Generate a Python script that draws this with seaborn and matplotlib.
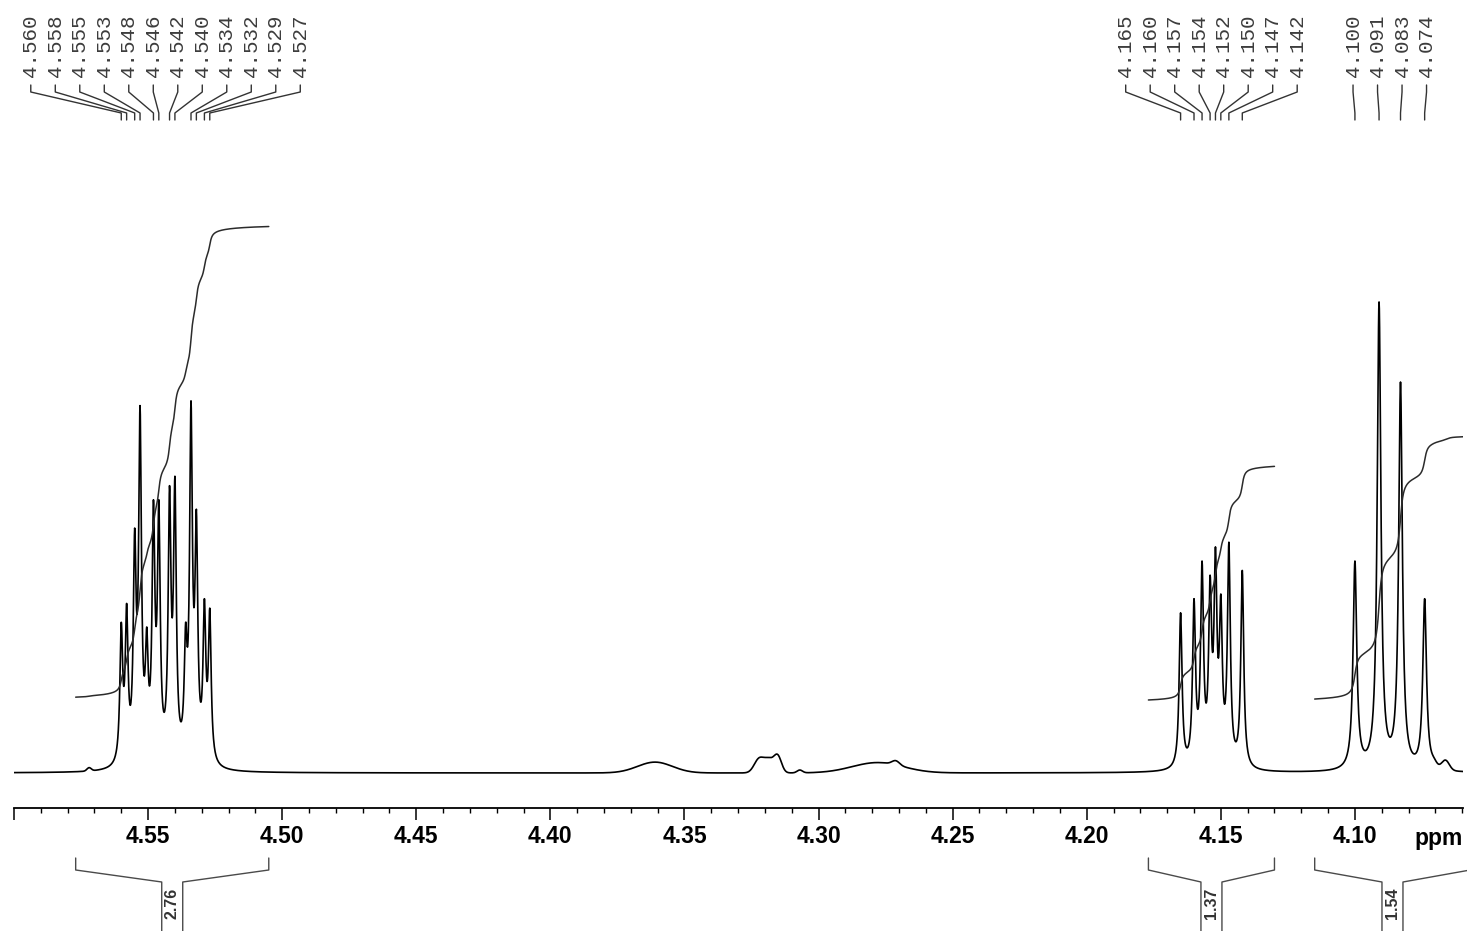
import numpy as np
import matplotlib
matplotlib.use("Agg")
import matplotlib.pyplot as plt
import matplotlib.transforms as mtransforms
from matplotlib.ticker import MultipleLocator, FuncFormatter
import seaborn as sns

# ---- peak lists: chemical shift (ppm) and apex intensity (tallest line = 100) ----
shifts_a = [4.560, 4.558, 4.555, 4.553, 4.548, 4.546, 4.542, 4.540, 4.534, 4.532, 4.529, 4.527]
apex_a = [32, 36, 52, 78, 58, 58, 61, 63, 79, 56, 37, 35]
shifts_b = [4.165, 4.160, 4.157, 4.154, 4.152, 4.150, 4.147, 4.142]
apex_b = [34, 37, 45, 42, 48, 38, 49, 43]
shifts_c = [4.100, 4.091, 4.083, 4.074]
apex_c = [45, 100, 83, 37]
# unlabelled lines inside the first multiplet
shifts_extra = [4.5505, 4.536]
apex_extra = [31, 32]

# Lorentzian half widths (ppm) for each multiplet
hwhm_a, hwhm_b, hwhm_c = 0.00062, 0.00065, 0.00082

# broad baseline features: centre (ppm), height, gaussian sigma (ppm)
broad_ppm = [4.572, 4.361, 4.3222, 4.3185, 4.3152, 4.307, 4.278, 4.2712, 4.0662, 4.0705]
broad_height = [0.7, 2.3, 2.9, 2.7, 3.4, 0.6, 2.2, 0.9, 2.0, 0.8]
broad_sigma = [0.0008, 0.0065, 0.0018, 0.0018, 0.0014, 0.0010, 0.0095, 0.0014, 0.0014, 0.0010]

# integrals: ppm range, value, label, starting level
integral_ranges = [(4.577, 4.505), (4.177, 4.130), (4.115, 4.057)]
integral_values = [2.76, 1.37, 1.54]
integral_labels = ["2.76", "1.37", "1.54"]
integral_start = [16.1, 15.5, 15.7]

integral_scale = 36.2       # curve rise per unit of integral

# ---- build the spectrum ----
ppm = np.linspace(4.605, 4.055, 5501)


def lorentz(x, x0, g):
    return g * g / ((x - x0) ** 2 + g * g)


def background(x):
    out = np.zeros_like(np.asarray(x, dtype=float))
    for c, h, s in zip(broad_ppm, broad_height, broad_sigma):
        out = out + h * np.exp(-0.5 * ((x - c) / s) ** 2)
    return out


centres = np.array(shifts_a + shifts_extra + shifts_b + shifts_c)
widths = np.array([hwhm_a] * (len(shifts_a) + len(shifts_extra))
                  + [hwhm_b] * len(shifts_b) + [hwhm_c] * len(shifts_c))
targets = np.array(apex_a + apex_extra + apex_b + apex_c, dtype=float)
targets = targets - background(centres)
A = lorentz(centres[:, None], centres[None, :], widths[None, :])
amps = np.clip(np.linalg.solve(A, targets), 0, None)

spectrum = background(ppm)
for c, a, g in zip(centres, amps, widths):
    spectrum = spectrum + a * lorentz(ppm, c, g)

# ---- figure ----
sns.set_theme(style="white")
plt.rcParams["font.family"] = ["Liberation Sans", "DejaVu Sans"]
plt.rcParams["font.weight"] = "bold"

W, H = 1467, 931
fig = plt.figure(figsize=(W / 100, H / 100), dpi=100)
ax = fig.add_axes([14 / W, 1 - 808 / H, 1449 / W, 808 / H])

sns.lineplot(x=ppm, y=spectrum, ax=ax, color="black", linewidth=1.2,
             estimator=None, sort=False)

# integral traces
for (p0, p1), val, start in zip(integral_ranges, integral_values, integral_start):
    m = (ppm <= p0) & (ppm >= p1)
    xs = ppm[m]
    ys = spectrum[m]
    cum = np.concatenate([[0.0], np.cumsum(0.5 * (ys[1:] + ys[:-1]))])
    curve = start + cum / cum[-1] * val * integral_scale
    sns.lineplot(x=xs, y=curve, ax=ax, color="#2b2b2b", linewidth=1.1,
                 estimator=None, sort=False)

ax.set_xlim(4.600, 4.0597)
ax.set_ylim(-7.43, 164.1)
ax.set_yticks([])
ax.set_ylabel("")
for s in ("left", "top", "right"):
    ax.spines[s].set_visible(False)
ax.spines["bottom"].set_color("black")
ax.spines["bottom"].set_linewidth(1.3)

ax.xaxis.set_major_locator(MultipleLocator(0.05))
ax.xaxis.set_minor_locator(MultipleLocator(0.01))
ax.xaxis.set_major_formatter(FuncFormatter(lambda v, p: "" if v > 4.575 else f"{v:.2f}"))
ax.tick_params(axis="x", which="major", direction="out", length=8.6, width=1.1,
               color="black", pad=3.5, labelsize=16.5, labelcolor="black", bottom=True)
ax.tick_params(axis="x", which="minor", direction="out", length=3.8, width=1.0,
               color="black", bottom=True)

fig_y = lambda px: 1 - px / H
tr_axes_y = mtransforms.blended_transform_factory(ax.transData, ax.transAxes)
tr_fig_y = mtransforms.blended_transform_factory(ax.transData, fig.transFigure)
ax_y = lambda px: (808 - px) / 808

ax.text(1.0, fig_y(845), "ppm", transform=mtransforms.blended_transform_factory(ax.transAxes, fig.transFigure),
        ha="right", va="baseline", fontsize=16.5, fontweight="bold", color="black")

# peak labels with connector lines
label_step = 24.5 / 2682
for group in (shifts_a, shifts_b, shifts_c):
    n = len(group)
    mid = 0.5 * (group[0] + group[-1])
    for i, p in enumerate(group):
        lx = mid + ((n - 1) / 2 - i) * label_step
        ax.text(lx, ax_y(77), f"{p:.3f}", transform=tr_axes_y, rotation=90,
                ha="center", va="bottom", fontsize=15, fontweight="normal",
                family=["Liberation Mono", "DejaVu Sans Mono"], color="#3c3c3c",
                clip_on=False)
        ax.plot([lx, lx, p, p], [ax_y(85), ax_y(92), ax_y(113), ax_y(120)],
                transform=tr_axes_y, color="#333333", lw=1.0, clip_on=False)

# integral brackets under the axis
gap = 10.5 / 2682
for (p0, p1), lab in zip(integral_ranges, integral_labels):
    c = 0.5 * (p0 + p1)
    ys = [fig_y(858), fig_y(870), fig_y(882), fig_y(935)]
    ax.plot([p0, p0, c + gap, c + gap], ys, transform=tr_fig_y,
            color="#4a4a4a", lw=1.0, clip_on=False)
    ax.plot([p1, p1, c - gap, c - gap], ys, transform=tr_fig_y,
            color="#4a4a4a", lw=1.0, clip_on=False)
    ax.text(c, fig_y(903), lab, transform=tr_fig_y, rotation=90, ha="center",
            va="center", fontsize=11.5, fontweight="bold", color="#333333", clip_on=False)

fig.savefig("out.png", dpi=100, facecolor="white")
